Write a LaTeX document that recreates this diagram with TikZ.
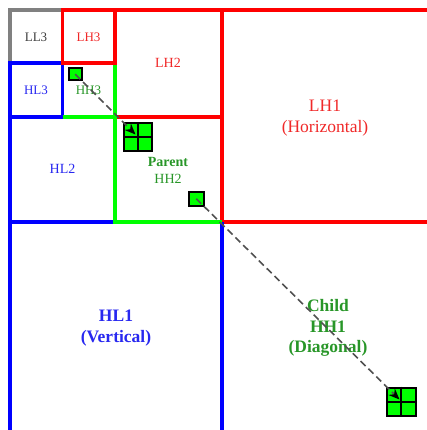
\documentclass[tikz,border=0pt]{standalone}
\usepackage{fontspec}
\setmainfont{Liberation Serif}
\usetikzlibrary{arrows.meta}
\definecolor{bred}{RGB}{255,0,0}
\definecolor{bblue}{RGB}{0,0,255}
\definecolor{bgreen}{RGB}{0,255,0}
\definecolor{bgray}{RGB}{128,128,128}
\definecolor{tred}{RGB}{240,40,40}
\definecolor{tblue}{RGB}{40,40,240}
\definecolor{tgreen}{RGB}{40,150,40}
\definecolor{tgray}{RGB}{60,60,60}
\definecolor{dashgray}{RGB}{80,80,80}
\tikzset{
  band/.style={line width=3.4pt},
  sq/.style={draw=black, fill=bgreen, line width=2pt, minimum size=#1, inner sep=0pt, anchor=north west},
  lbl/.style={font=\fontsize{13}{15}\selectfont, inner sep=0pt},
  lbltwo/.style={font=\fontsize{14}{17}\selectfont, inner sep=0pt, align=center},
  lblone/.style={font=\fontsize{17.5}{20.5}\selectfont, inner sep=0pt, align=center},
  dasharrow/.style={draw=dashgray, line width=1.6pt, dash pattern=on 7pt off 4pt, -{Stealth[length=11pt,width=9pt,fill=black,color=black]}}
}
\begin{document}
\begin{tikzpicture}[x=1pt,y=-1pt]
\useasboundingbox (0,0) rectangle (426,430);
% level 1
\draw[band, bred] (222,10) -- (430,10);
\draw[band, bred] (222,222) -- (430,222);
\draw[band, bblue] (10,222) -- (10,432);
\draw[band, bblue] (222,222) -- (222,432);
\draw[band, bblue] (10,222) -- (222,222);
\draw[band, bred] (222,8.3) -- (222,222);
% level 2
\draw[band, bred] (115,10) -- (222,10);
\draw[band, bred] (115,117) -- (222,117);
\draw[band, bred] (115,10) -- (115,117);
\draw[band, bblue] (10,117) rectangle (115,222);
\draw[band, bgreen] (115,117) -- (115,222) -- (222,222);
% level 3
\draw[band, bgray] (10,10) rectangle (62.5,63);
\draw[band, bblue] (10,63) rectangle (62.5,117);
\draw[band, bgreen] (62.5,117) -- (115,117) -- (115,63);
\draw[band, bred] (62.5,10) rectangle (115,63);
% labels
\node[lbl, text=tgray] (tLL3) at (36,37) {LL3};
\node[lbl, text=tred] (tLH3) at (88.5,37) {LH3};
\node[lbl, text=tblue] (tHL3) at (36,90) {HL3};
\node[lbl, text=tgreen] (tHH3) at (88.5,90) {HH3};
\node[lbltwo, text=tred] (tLH2) at (168,63) {LH2};
\node[lbltwo, text=tblue] (tHL2) at (62.5,169) {HL2};
\node[lbltwo, text=tgreen] (tHH2) at (168,170) {\textbf{Parent}\\HH2};
\node[lblone, text=tred] (tLH1) at (325,118) {LH1\\(Horizontal)};
\node[lblone, text=tblue] (tHL1) at (116,328) {\textbf{HL1}\\\textbf{(Vertical)}};
\node[lblone, text=tgreen] (tHH1) at (328,328) {\textbf{Child}\\\textbf{HH1}\\\textbf{(Diagonal)}};
% small squares
\node[sq=12.5pt] (s3) at (68,67) {};
\node[sq=28pt] (p2) at (123,122.5) {};
\draw[line width=2pt] (p2.north) -- (p2.south) (p2.west) -- (p2.east);
\node[sq=14.5pt] (s2) at (188,190.5) {};
\node[sq=28.5pt] (c1) at (386,386.5) {};
\draw[line width=2pt] (c1.north) -- (c1.south) (c1.west) -- (c1.east);
\coordinate (p2tip) at (135.5,134.5);
\coordinate (c1tip) at (399.5,399.5);
% arrows
\draw[dasharrow] (s3.center) -- (p2tip);
\draw[dasharrow] (s2.center) -- (c1tip);
\end{tikzpicture}
\end{document}
